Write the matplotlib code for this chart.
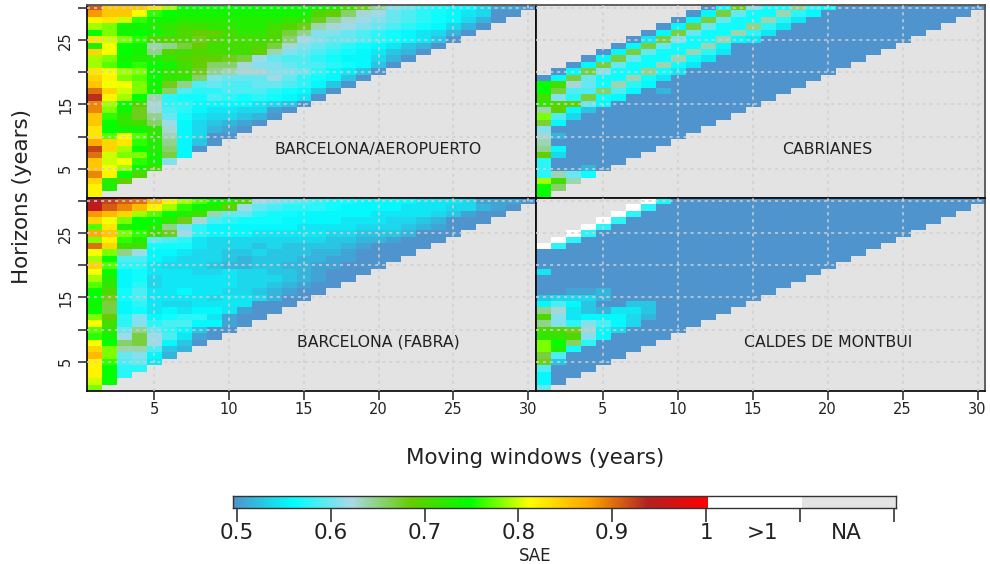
import numpy as np
import matplotlib
matplotlib.use("Agg")
import matplotlib.pyplot as plt
from matplotlib.colors import LinearSegmentedColormap

# SAE x 100 per cell, first row is horizon 30, each row starts at window 1
N = None   # NA
W = 101    # >1

aeropuerto = [
    [91,85,85,85,83, 79,75,75,75,75, 75,75,75,75,75, 74,73,71,68,65, 61,60,58,57,56, 56,54,51,51,50],
    [88,85,85,81,76, 75,74,74,74,74, 74,74,74,74,74, 70,69,66,63,62, 60,59,58,57,56, 55,54,50,50],
    [82,83,80,76,74, 74,73,73,73,73, 73,73,73,72,72, 68,65,63,62,61, 60,59,58,57,56, 54,52,50],
    [79,78,74,74,73, 72,71,71,72,72, 73,73,71,70,68, 64,63,62,61,60, 59,58,57,56,54, 52,50],
    [75,78,74,75,74, 72,70,69,69,71, 72,72,70,67,65, 61,61,60,59,58, 57,56,55,54,52, 50],
    [83,80,78,76,70, 70,70,68,70,71, 71,71,70,66,62, 61,60,60,59,58, 57,56,55,53,50],
    [73,81,75,74,64, 65,67,69,71,71, 71,70,67,63,61, 60,59,58,57,56, 55,53,52,50],
    [84,81,75,74,65, 70,71,70,71,71, 71,69,64,61,60, 59,58,57,56,55, 53,52,50],
    [79,78,74,73,73, 72,70,69,69,68, 67,62,60,59,59, 58,57,56,56,54, 52,50],
    [79,77,75,76,75, 74,71,69,66,66, 63,61,61,60,59, 59,58,57,56,53, 50],
    [83,81,79,78,74, 72,71,68,65,64, 63,63,61,61,60, 58,56,55,53,50],
    [84,82,78,77,75, 72,72,66,61,60, 60,60,62,60,58, 57,56,53,50],
    [85,81,81,78,74, 68,65,59,60,59, 59,60,60,59,58, 56,53,50],
    [90,84,80,78,74, 66,59,58,58,59, 59,59,58,57,56, 53,50],
    [93,82,79,75,64, 58,57,57,59,58, 57,58,57,56,55, 50],
    [89,79,75,70,63, 58,58,56,56,56, 56,55,54,53,50],
    [89,78,74,68,63, 59,58,56,55,55, 54,54,51,50],
    [85,76,72,68,65, 60,57,55,54,54, 53,52,50],
    [85,75,72,71,66, 62,56,54,53,52, 51,50],
    [83,75,74,74,72, 63,56,54,52,51, 50],
    [83,77,81,77,72, 64,56,54,50,50],
    [87,84,83,76,73, 65,56,53,50],
    [92,84,79,75,73, 66,56,50],
    [90,80,78,78,74, 67,56],
    [85,80,81,76,74, 61],
    [85,81,79,74,71],
    [89,82,75,70],
    [84,73,69],
    [82,73],
    [82],
]

cabrianes = [
    [N,N,N,N,N, N,N,N,N,N, N,50,57,68,61, 57,57,65,58,56, 50,50,50,50,50, 50,50,50,50,50],
    [N,N,N,N,N, N,N,N,N,N, 50,56,67,60,57, 57,64,58,56,50, 50,50,50,50,50, 50,50,50,50],
    [N,N,N,N,N, N,N,N,N,50, 56,67,60,57,57, 64,58,55,50,50, 50,50,50,50,50, 50,50,50],
    [N,N,N,N,N, N,N,N,50,56, 67,60,57,57,65, 58,55,50,50,50, 50,50,50,50,50, 50,50],
    [N,N,N,N,N, N,N,50,56,67, 60,57,57,64,58, 55,50,50,50,50, 50,50,50,50,50, 50],
    [N,N,N,N,N, N,50,55,67,61, 57,57,64,56,55, 50,50,50,50,50, 50,50,50,50,50],
    [N,N,N,N,N, 50,56,67,60,57, 57,64,56,50,50, 50,50,50,50,50, 50,50,50,50],
    [N,N,N,N,50, 56,67,60,57,57, 64,58,55,50,50, 50,50,50,50,50, 50,50,50],
    [N,N,N,50,56, 67,60,57,57,64, 57,55,50,50,50, 50,50,50,50,50, 50,50],
    [N,N,50,56,67, 60,57,57,64,57, 55,50,50,50,50, 50,50,50,50,50, 50],
    [N,50,56,67,61, 57,57,65,57,55, 50,50,50,50,50, 50,50,50,50,50],
    [50,56,67,60,57, 57,64,57,55,50, 50,50,50,50,50, 50,50,50,50],
    [75,71,63,60,57, 64,58,56,50,50, 50,50,50,50,50, 50,50,50],
    [75,67,59,59,66, 59,56,50,52,50, 50,50,50,50,50, 50,50],
    [71,61,58,67,57, 56,50,50,50,50, 50,50,50,50,50, 50],
    [72,70,69,60,56, 50,50,50,50,50, 50,50,50,50,50],
    [64,69,56,53,50, 50,50,50,50,50, 50,50,50,50],
    [78,59,54,50,50, 50,50,50,50,50, 50,50,50],
    [67,56,50,50,50, 50,50,50,50,50, 50,50],
    [61,50,50,50,50, 50,50,50,50,50, 50],
    [63,52,50,50,50, 50,50,50,50,50],
    [64,50,50,50,50, 50,50,50,50],
    [65,56,50,50,50, 50,50,50],
    [69,54,50,50,50, 50,50],
    [58,50,50,50,50, 50],
    [58,50,50,52,50],
    [58,64,60,57],
    [79,71,64],
    [75,66],
    [75],
]

fabra = [
    [94,92,91,90,86, 82,79,77,75,73, 70,62,61,60,59, 58,57,57,56,56, 56,56,55,55,55, 54,51,51,51,50],
    [95,91,89,86,82, 79,76,74,73,69, 62,60,59,58,58, 58,57,56,56,56, 56,55,55,55,54, 54,52,51,50],
    [88,86,84,79,77, 75,73,71,64,60, 60,58,57,57,56, 56,56,56,56,55, 55,55,55,54,53, 51,50,50],
    [84,81,78,75,75, 72,68,63,59,58, 57,57,57,56,56, 56,56,55,55,55, 54,54,53,52,50, 50,50],
    [77,83,73,75,73, 65,61,58,56,56, 56,56,56,56,55, 55,55,55,54,54, 54,53,52,51,50, 50],
    [87,85,78,76,71, 68,62,58,56,56, 56,55,55,55,55, 55,54,54,53,53, 53,52,50,50,50],
    [78,82,76,73,60, 59,58,55,54,54, 54,54,54,54,54, 54,53,53,52,52, 51,50,50,50],
    [90,84,71,71,57, 57,57,55,54,54, 54,53,54,53,53, 53,53,52,51,50, 50,50,50],
    [81,78,65,62,56, 56,55,54,54,53, 53,54,53,53,53, 52,52,51,50,50, 50,50],
    [79,75,59,59,56, 55,54,54,54,53, 52,53,53,53,52, 52,51,51,50,50, 50],
    [84,77,58,58,55, 54,54,54,53,52, 52,53,53,52,52, 51,51,50,50,50],
    [81,75,56,57,55, 55,55,54,54,55, 54,54,53,53,52, 51,50,50,50],
    [79,73,56,57,54, 55,55,55,55,55, 54,54,54,53,52, 51,50,50],
    [77,72,56,58,54, 55,55,55,55,55, 54,54,53,52,51, 50,50],
    [75,70,57,59,55, 55,56,55,55,54, 54,53,52,51,50, 50],
    [75,68,57,59,55, 55,55,55,54,55, 55,54,52,50,50],
    [74,67,56,58,55, 54,54,55,55,55, 55,50,50,50],
    [75,67,56,57,55, 56,55,56,56,55, 51,50,50],
    [78,69,58,61,56, 57,58,58,55,51, 50,50],
    [81,71,58,61,58, 59,59,56,56,51, 50],
    [77,72,60,65,60, 58,56,53,50,50],
    [76,74,62,67,62, 59,55,51,50],
    [81,75,66,67,62, 56,53,50],
    [84,78,64,64,59, 53,52],
    [86,78,60,61,56, 52],
    [82,76,59,60,55],
    [82,75,58,58],
    [82,75,58],
    [80,75],
    [78],
]

caldes = [
    [N,N,N,N,N, N,N,W,57,50, 50,50,50,50,50, 50,50,50,50,50, 50,50,50,50,50, 50,50,50,50,50],
    [N,N,N,N,N, N,W,58,50,50, 50,50,50,50,50, 50,50,50,50,50, 50,50,50,50,50, 50,50,50,50],
    [N,N,N,N,N, W,58,50,50,50, 50,50,50,50,50, 50,50,50,50,50, 50,50,50,50,50, 50,50,50],
    [N,N,N,N,W, 58,50,50,50,50, 50,50,50,50,50, 50,50,50,50,50, 50,50,50,50,50, 50,50],
    [N,N,N,W,58, 50,50,50,50,50, 50,50,50,50,50, 50,50,50,50,50, 50,50,50,50,50, 50],
    [N,N,W,58,50, 50,50,50,50,50, 50,50,50,50,50, 50,50,50,50,50, 50,50,50,50,50],
    [N,W,58,50,50, 50,50,50,50,50, 50,50,50,50,50, 50,50,50,50,50, 50,50,50,50],
    [W,58,50,50,50, 50,50,50,50,50, 50,50,50,50,50, 50,50,50,50,50, 50,50,50],
    [50,50,50,50,50, 50,50,50,50,50, 50,50,50,50,50, 50,50,50,50,50, 50,50],
    [50,50,50,50,50, 50,50,50,50,50, 50,50,50,50,50, 50,50,50,50,50, 50],
    [50,50,50,50,50, 50,50,50,50,50, 50,50,50,50,50, 50,50,50,50,50],
    [55,50,50,50,50, 50,50,50,50,50, 50,50,50,50,50, 50,50,50,50],
    [50,50,50,50,50, 50,50,50,50,50, 50,50,50,50,50, 50,50,50],
    [50,50,50,50,50, 50,50,50,50,50, 50,50,50,50,50, 50,50],
    [50,50,51,51,52, 50,50,50,50,50, 50,50,50,50,50, 50],
    [53,54,54,54,52, 50,50,50,50,50, 50,50,50,50,50],
    [56,59,56,53,50, 50,53,53,50,50, 50,50,50,50],
    [65,63,55,53,52, 55,55,53,50,50, 50,50,50],
    [70,61,55,56,56, 56,54,52,50,50, 50,50],
    [65,61,58,61,59, 56,54,50,50,50, 50],
    [71,70,68,63,56, 54,50,50,50,50],
    [72,72,70,61,56, 50,50,50,50],
    [78,75,66,58,50, 50,50,50],
    [78,73,57,50,50, 50,50],
    [67,59,50,50,50, 50],
    [68,53,50,50,50],
    [59,50,50,50],
    [56,50,50],
    [56,50],
    [60],
]

panel_names = ["BARCELONA/AEROPUERTO", "CABRIANES", "BARCELONA (FABRA)", "CALDES DE MONTBUI"]
panel_data = [aeropuerto, cabrianes, fabra, caldes]

cb_ticks = [0.5, 0.6, 0.7, 0.8, 0.9, 1.0, 1.1, 1.2]
cb_labels = ["0.5", "0.6", "0.7", "0.8", "0.9", "1", "", ""]

colors = ["#4F94CD", "cyan", "#ADD8E6", "#66CD00", "#00FF00", "yellow", "orange", "#B22222", "red"]
cmap = LinearSegmentedColormap.from_list("sae", colors, N=256)
cmap.set_over("white")
cmap.set_bad("#E3E3E3")

W_PX, H_PX = 990, 564
fig = plt.figure(figsize=(W_PX / 100, H_PX / 100), dpi=100)


def add_axes_px(x0, y0, x1, y1):
    # pixel box measured from the top left of the picture
    return fig.add_axes([x0 / W_PX, 1 - y1 / H_PX, (x1 - x0) / W_PX, (y1 - y0) / H_PX])


boxes = [(87, 5, 535.5, 197.5), (535.5, 5, 985, 197.5),
         (87, 198, 535.5, 390.5), (535.5, 198, 985, 390.5)]

for i, (name, rows, box) in enumerate(zip(panel_names, panel_data, boxes)):
    ax = add_axes_px(*box)
    full = [r + [N] * (30 - len(r)) for r in rows]
    z = np.array(full[::-1], dtype=float)
    ax.imshow(z, origin="lower", extent=(0.5, 30.5, 0.5, 30.5), aspect="auto",
              cmap=cmap, vmin=50, vmax=100, interpolation="nearest")
    ax.set_xticks(range(5, 31, 5))
    ax.set_yticks(range(5, 31, 5))
    ax.grid(True, color="#d0d0d0", ls=(0, (2.0, 2.6)), lw=1.1)
    ax.set_axisbelow(False)
    ax.tick_params(length=6.5, width=1.1, labelsize=10.5, color="#222222", labelcolor="#222222")
    if i >= 2:
        ax.tick_params(axis="x", pad=2)
    else:
        ax.tick_params(axis="x", bottom=False, labelbottom=False)
    if i % 2 == 0:
        ax.set_yticklabels(["5", "", "15", "", "25", ""], rotation=90, va="center")
    else:
        ax.tick_params(axis="y", left=False, labelleft=False)
    for s in ax.spines.values():
        s.set_linewidth(1.3)
        s.set_color("#111111")
    # outer edges of the panel block are greyer than the inner ones
    if i < 2:
        ax.spines["top"].set_color("#555555")
    if i % 2 == 1:
        ax.spines["right"].set_color("#555555")
    ax.text(20, 8, name, ha="center", va="center", fontsize=11.3, color="#222222")

fig.text(22 / W_PX, 1 - 197 / H_PX, "Horizons (years)", rotation=90, ha="center", va="center",
         fontsize=15.4, color="#222222")
fig.text(535 / W_PX, 1 - 458 / H_PX, "Moving windows (years)", ha="center", va="center",
         fontsize=15.4, color="#222222")

# colour bar: 0.5 sits at 237 px and 1 at 706 px
cax = add_axes_px(233, 496, 896, 508)
scale = (706 - 237) / 0.5
xlim = (0.5 + (233 - 237) / scale, 0.5 + (896 - 237) / scale)
red_end = 0.5 + (708 - 237) / scale
white_end = 0.5 + (802 - 237) / scale
grad = np.linspace(50, 100, 256).reshape(1, -1)
cax.imshow(grad, extent=(xlim[0], red_end, 0, 1), aspect="auto", cmap=cmap, vmin=50, vmax=100)
cax.axvspan(red_end, white_end, color="white", lw=0)
cax.axvspan(white_end, xlim[1], color="#E3E3E3", lw=0)
cax.set_xlim(xlim)
cax.set_ylim(0, 1)
cax.set_yticks([])
cax.set_xticks(cb_ticks)
cax.set_xticklabels(cb_labels, fontsize=15.5, color="#222222")
cax.set_xticks([1.06, 1.15], minor=True)
cax.set_xticklabels([">1", "NA"], minor=True, fontsize=15.5, color="#222222")
cax.tick_params(axis="x", which="major", length=10, width=1.1, pad=0.5, color="#222222")
cax.tick_params(axis="x", which="minor", length=10, width=0, pad=0.5)
for s in cax.spines.values():
    s.set_linewidth(1.0)
    s.set_color("#333333")

fig.text(535 / W_PX, 1 - 556 / H_PX, "SAE", ha="center", va="center", fontsize=12, color="#222222")

fig.savefig("out.png", dpi=100)
